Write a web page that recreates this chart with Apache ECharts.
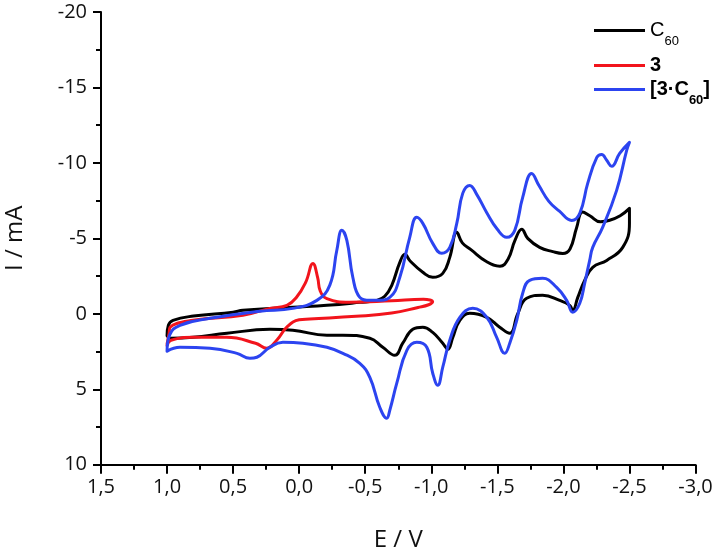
<!DOCTYPE html>
<html>
<head>
<meta charset="utf-8">
<script src="https://cdn.jsdelivr.net/npm/echarts@6/dist/echarts.min.js"></script>
<style>
html,body{margin:0;padding:0;background:#fff;}
#chart{width:716px;height:554px;}
</style>
</head>
<body>
<div id="chart"></div>
<script>
// E (V), I (mA) pairs
const c60Curve = [
  [1.00,1.45],[0.99,0.76],[0.955,0.43],[0.80,0.15],[0.50,-0.10],[0.426,-0.23],[0.048,-0.43],
  [-0.21,-0.56],[-0.459,-0.76],[-0.588,-0.89],[-0.648,-1.16],[-0.701,-1.89],[-0.762,-3.41],
  [-0.80,-3.94],[-0.84,-3.50],[-0.936,-2.75],[-1.011,-2.42],[-1.087,-2.68],[-1.14,-3.74],
  [-1.193,-5.40],[-1.235,-4.70],[-1.30,-4.25],[-1.42,-3.45],[-1.52,-3.15],[-1.58,-3.60],
  [-1.635,-4.90],[-1.685,-5.60],[-1.73,-5.00],[-1.82,-4.40],[-1.92,-4.12],[-1.995,-4.00],
  [-2.05,-4.30],[-2.10,-5.70],[-2.146,-6.75],[-2.20,-6.50],[-2.28,-6.10],[-2.35,-6.20],
  [-2.43,-6.50],[-2.50,-6.99],
  [-2.50,-5.99],[-2.449,-4.40],[-2.328,-3.54],[-2.222,-3.08],[-2.161,-2.22],[-2.109,-1.09],
  [-2.071,-0.23],[-2.048,-0.56],[-1.972,-0.89],[-1.843,-1.23],[-1.722,-1.03],[-1.654,0.00],
  [-1.594,1.29],[-1.518,0.89],[-1.42,0.23],[-1.291,-0.03],[-1.216,0.43],[-1.163,1.56],
  [-1.125,2.35],[-1.087,1.95],[-1.011,1.23],[-0.936,0.89],[-0.86,1.03],[-0.784,1.95],
  [-0.724,2.75],[-0.633,2.22],[-0.535,1.62],[-0.331,1.42],[-0.21,1.42],[0.048,1.09],
  [0.222,1.03],[0.547,1.29],[0.804,1.56],[0.977,1.62],[1.00,1.45]
];
const cmp3Curve = [
  [1.00,2.00],[0.985,1.30],[0.977,0.89],[0.804,0.43],[0.426,0.10],[0.222,-0.36],[0.093,-0.56],
  [0.02,-1.10],[-0.05,-2.10],[-0.104,-3.34],[-0.14,-2.40],[-0.16,-1.50],[-0.21,-1.00],
  [-0.38,-0.76],[-0.70,-0.86],[-0.94,-0.96],[-0.99,-0.92],[-1.01,-0.80],[-0.98,-0.60],
  [-0.90,-0.42],[-0.70,-0.05],[-0.43,0.17],[-0.08,0.35],[0.00,0.40],[0.09,0.85],[0.17,1.75],
  [0.245,2.28],[0.33,1.95],[0.55,1.56],[0.80,1.56],[0.97,1.75],[1.00,2.10]
];
const complexCurve = [
  [1.00,2.48],[0.98,1.40],[0.902,0.76],[0.675,0.30],[0.298,-0.17],[0.048,-0.36],[-0.134,-0.89],
  [-0.232,-1.90],[-0.285,-4.21],[-0.323,-5.53],[-0.361,-4.87],[-0.406,-2.42],[-0.459,-1.09],
  [-0.535,-0.89],[-0.588,-0.89],[-0.686,-1.09],[-0.762,-2.42],[-0.837,-5.07],[-0.89,-6.39],
  [-0.936,-5.99],[-1.011,-4.67],[-1.079,-4.01],[-1.14,-4.40],[-1.193,-5.99],[-1.238,-7.98],
  [-1.291,-8.51],[-1.345,-7.90],[-1.42,-6.70],[-1.50,-5.60],[-1.571,-5.07],[-1.632,-5.53],
  [-1.692,-7.72],[-1.76,-9.30],[-1.815,-8.50],[-1.89,-7.45],[-1.97,-6.80],[-2.063,-6.19],
  [-2.124,-6.66],[-2.184,-8.64],[-2.253,-10.36],[-2.29,-10.56],[-2.328,-10.17],[-2.366,-9.77],
  [-2.426,-10.63],[-2.50,-11.36],
  [-2.479,-10.83],[-2.403,-8.18],[-2.297,-5.73],[-2.222,-4.40],[-2.199,-3.54],[-2.161,-2.02],
  [-2.124,-0.70],[-2.071,-0.10],[-2.025,-0.89],[-1.949,-1.75],[-1.843,-2.35],[-1.745,-2.22],
  [-1.692,-1.36],[-1.647,0.43],[-1.594,1.95],[-1.556,2.62],[-1.495,1.56],[-1.42,0.23],
  [-1.314,-0.36],[-1.216,0.23],[-1.14,1.75],[-1.087,3.54],[-1.049,4.74],[-1.011,3.94],
  [-0.966,2.22],[-0.89,1.89],[-0.815,2.42],[-0.739,4.60],[-0.686,6.39],[-0.663,6.92],
  [-0.61,6.19],[-0.535,4.21],[-0.459,3.28],[-0.331,2.62],[-0.21,2.22],[-0.028,1.95],
  [0.123,1.89],[0.222,2.22],[0.32,2.88],[0.373,2.95],[0.471,2.62],[0.675,2.28],[0.902,2.22],
  [1.00,2.48]
];
const seriesNames = ['C60', '3', '[3·C60]'];
const seriesColors = ['#000000', '#f2141c', '#2c44f0'];
const xRange = [-3, 1.5];
const yRange = [-20, 10];

const chart = echarts.init(document.getElementById('chart'), null, {renderer: 'canvas'});
const axisColor = '#000';
const labelFont = {fontFamily: 'Open Sans', fontSize: 20, color: '#111'};
const legendRich = {
  n: {fontFamily: 'Liberation Sans', fontSize: 20, color: '#000', lineHeight: 35, verticalAlign: 'middle'},
  nb: {fontFamily: 'Liberation Sans', fontSize: 20, fontWeight: 'bold', color: '#000', lineHeight: 35, verticalAlign: 'middle'},
  s: {fontFamily: 'Liberation Sans', fontSize: 13, color: '#000', lineHeight: 35, verticalAlign: 'bottom'},
  sb: {fontFamily: 'Liberation Sans', fontSize: 13, fontWeight: 'bold', color: '#000', lineHeight: 35, verticalAlign: 'bottom'}
};
function mkLegend(name, top, fmt) {
  return {
    data: [name], left: 594, top: top, padding: 0, orient: 'vertical',
    icon: 'rect', itemWidth: 51, itemHeight: 3, itemGap: 0,
    selectedMode: false,
    formatter: fmt,
    textStyle: {rich: legendRich}
  };
}
const curves = [c60Curve, cmp3Curve, complexCurve];
chart.setOption({
  animation: false,
  backgroundColor: '#fff',
  grid: {left: 101, right: 20.5, top: 12, bottom: 89.3, containLabel: false, outerBoundsMode: 'none'},
  legend: [
    mkLegend(seriesNames[0], 20.5, () => '{n|C}{s|60}'),
    mkLegend(seriesNames[1], 55.5, () => '{nb|3}'),
    mkLegend(seriesNames[2], 79.5, () => '{nb|[3·C}{sb|60}{nb|]}')
  ],
  xAxis: {
    type: 'value', min: xRange[0], max: xRange[1], interval: 0.5, inverse: true,
    name: 'E / V', nameLocation: 'middle', nameGap: 63,
    nameTextStyle: {fontFamily: 'Open Sans', fontSize: 24, color: '#111'},
    axisLine: {onZero: false, lineStyle: {color: axisColor, width: 2}},
    axisTick: {show: true, inside: false, length: 9, lineStyle: {color: axisColor, width: 2}},
    minorTick: {show: true, splitNumber: 2, length: 5, lineStyle: {color: axisColor, width: 2}},
    splitLine: {show: false}, minorSplitLine: {show: false},
    axisLabel: Object.assign({margin: 13, formatter: v => v.toFixed(1).replace('.', ',')}, labelFont)
  },
  yAxis: {
    type: 'value', min: yRange[0], max: yRange[1], interval: 5, inverse: true,
    name: 'I / mA', nameLocation: 'middle', nameGap: 74,
    nameTextStyle: {fontFamily: 'Open Sans', fontSize: 24, color: '#111'},
    axisLine: {onZero: false, lineStyle: {color: axisColor, width: 2}},
    axisTick: {show: true, inside: false, length: 8, lineStyle: {color: axisColor, width: 2}},
    minorTick: {show: true, splitNumber: 2, length: 5, lineStyle: {color: axisColor, width: 2}},
    splitLine: {show: false}, minorSplitLine: {show: false},
    axisLabel: Object.assign({margin: 14, formatter: v => String(v)}, labelFont)
  },
  series: curves.map((d, i) => ({
    name: seriesNames[i], type: 'line', data: d, smooth: 0.45, showSymbol: false,
    symbol: 'none', clip: false,
    lineStyle: {color: seriesColors[i], width: 3, join: 'round', cap: 'round'}, itemStyle: {color: seriesColors[i]}
  }))
});
</script>
</body>
</html>
